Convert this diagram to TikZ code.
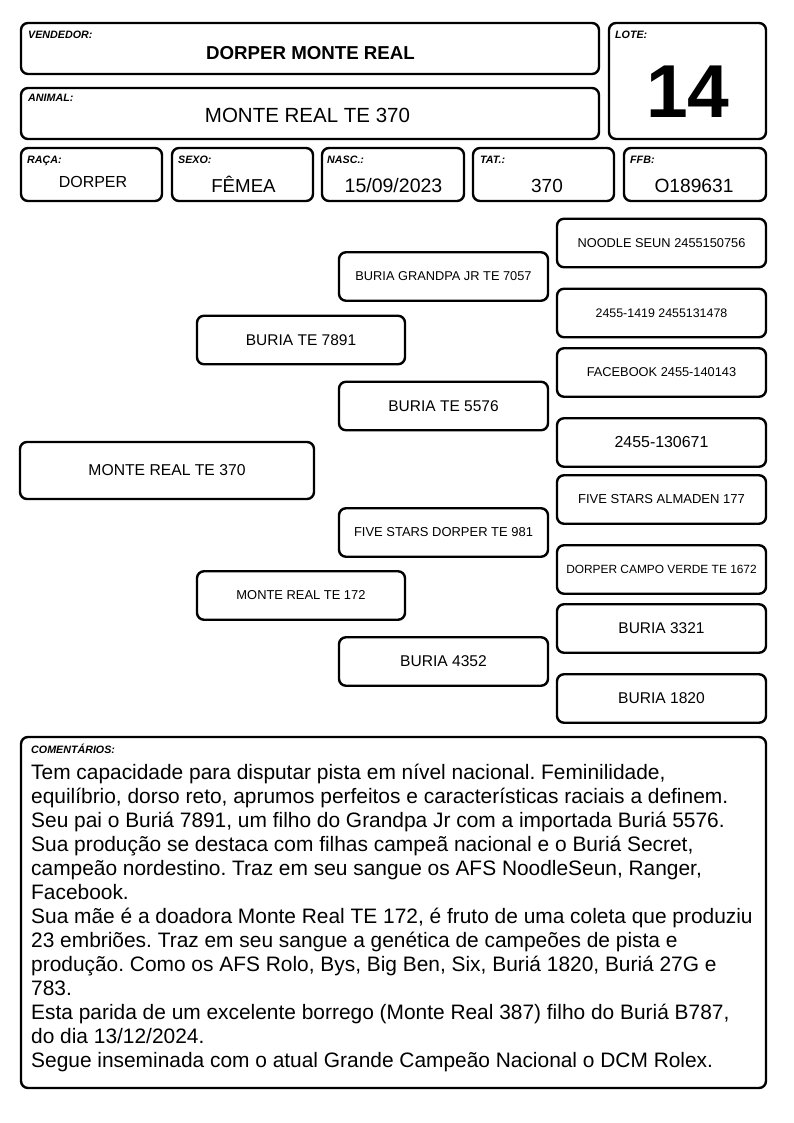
\documentclass[tikz,border=0pt]{standalone}
\usepackage{fontspec}
\setmainfont{Liberation Sans}
\newcommand\myfs[1]{\fontsize{#1}{#1}\selectfont}
\frenchspacing
\begin{document}
\begin{tikzpicture}[x=1pt,y=-1pt,
  card/.style={draw, line width=2.4pt, rounded corners=7pt, inner sep=0pt, align=center},
  ped/.style={card, minimum width=209pt, minimum height=48.5pt},
  lbl/.style={anchor=base west, inner sep=0pt, font=\myfs{10.7}\bfseries\itshape},
  val/.style={anchor=base, inner sep=0pt}]
\fill[white] (0,0) rectangle (794,1123);
\useasboundingbox (0,0) rectangle (794,1123);

% header cards
\node[card, minimum width=578pt, minimum height=51pt] (vend) at (310,48.5) {};
\node[card, minimum width=578pt, minimum height=51pt] (anim) at (310,113.5) {};
\node[card, minimum width=157pt, minimum height=116pt] (lote) at (687.5,81) {};
\node[card, minimum width=141pt, minimum height=53pt] (raca) at (91.5,174.5) {};
\node[card, minimum width=141pt, minimum height=53pt] (sexo) at (242.5,174.5) {};
\node[card, minimum width=142pt, minimum height=53pt] (nasc) at (393,174.5) {};
\node[card, minimum width=141pt, minimum height=53pt] (tat) at (543.5,174.5) {};
\node[card, minimum width=142pt, minimum height=53pt] (ffb) at (695,174.5) {};

\node[lbl] (vendl) at (28,39) {VENDEDOR:};
\node[lbl] (animl) at (28,102) {ANIMAL:};
\node[lbl] (lotel) at (615,39) {LOTE:};
\node[lbl] (racal) at (27,164) {RAÇA:};
\node[lbl] (sexol) at (178,164) {SEXO:};
\node[lbl] (nascl) at (327,164) {NASC.:};
\node[lbl] (tatl) at (480,164) {TAT.:};
\node[lbl] (ffbl) at (630,164) {FFB:};

\node[val, font=\myfs{18.7}\bfseries] (vendv) at (310.5,60) {DORPER MONTE REAL};
\node[val, font=\myfs{20.5}] (animv) at (307.5,123) {MONTE REAL TE 370};
\node[val, font=\myfs{75}\bfseries] (lotev) at (688,118) {14};
\node[val, font=\myfs{16}] (racav) at (93,188) {DORPER};
\node[val, font=\myfs{18.7}] (sexov) at (243.5,193) {FÊMEA};
\node[val, font=\myfs{19.5}] (nascv) at (393.5,193) {15/09/2023};
\node[val, font=\myfs{19}] (tatv) at (547,193) {370};
\node[val, font=\myfs{19.2}] (ffbv) at (694,193) {O189631};

% pedigree
\node[card, minimum width=294pt, minimum height=57pt, font=\myfs{15.7}] (p0) at (167,470.5) {MONTE REAL TE 370};
\node[card, minimum width=208pt, minimum height=48.5pt, font=\myfs{15.5}] (ps) at (301,340) {BURIA TE 7891};
\node[card, minimum width=208pt, minimum height=48.5pt, font=\myfs{12.9}] (pd) at (301,595.5) {MONTE REAL TE 172};
\node[ped, font=\myfs{12.8}] (pss) at (443.5,276.5) {BURIA GRANDPA JR TE 7057};
\node[ped, font=\myfs{15.5}] (psd) at (443.5,406) {BURIA TE 5576};
\node[ped, font=\myfs{12.95}] (pds) at (443.5,532.5) {FIVE STARS DORPER TE 981};
\node[ped, font=\myfs{15.6}] (pdd) at (443.5,661.5) {BURIA 4352};
\node[ped, font=\myfs{12.8}] (psss) at (661.5,243) {NOODLE SEUN 2455150756};
\node[ped, font=\myfs{12.4}] (pssd) at (661.5,313) {2455-1419 2455131478};
\node[ped, font=\myfs{12.8}] (psds) at (661.5,372.5) {FACEBOOK 2455-140143};
\node[ped, font=\myfs{15.9}] (psdd) at (661.5,442.5) {2455-130671};
\node[ped, font=\myfs{13}] (pdss) at (661.5,499.5) {FIVE STARS ALMADEN 177};
\node[ped, font=\myfs{11.9}] (pdsd) at (661.5,569.5) {DORPER CAMPO VERDE TE 1672};
\node[ped, font=\myfs{15.5}] (pdds) at (661.5,628.5) {BURIA 3321};
\node[ped, font=\myfs{15.6}] (pddd) at (661.5,698.5) {BURIA 1820};

% comments
\node[card, minimum width=745pt, minimum height=351pt] (com) at (393.5,912.5) {};
\node[lbl] (coml) at (31,753) {COMENTÁRIOS:};
\node[anchor=base west, inner sep=0pt, align=left, font=\fontsize{20.9}{24}\selectfont] (comv) at (31,1067) {Tem capacidade para disputar pista em nível nacional. Feminilidade,\\
equilíbrio, dorso reto, aprumos perfeitos e características raciais a definem.\\
Seu pai o Buriá 7891, um filho do Grandpa Jr com a importada Buriá 5576.\\
Sua produção se destaca com filhas campeã nacional e o Buriá Secret,\\
campeão nordestino. Traz em seu sangue os AFS NoodleSeun, Ranger,\\
Facebook.\\
Sua mãe é a doadora Monte Real TE 172, é fruto de uma coleta que produziu\\
23 embriões. Traz em seu sangue a genética de campeões de pista e\\
produção. Como os AFS Rolo, Bys, Big Ben, Six, Buriá 1820, Buriá 27G e\\
783.\\
Esta parida de um excelente borrego (Monte Real 387) filho do Buriá B787,\\
do dia 13/12/2024.\\
Segue inseminada com o atual Grande Campeão Nacional o DCM Rolex.};
\end{tikzpicture}
\end{document}
